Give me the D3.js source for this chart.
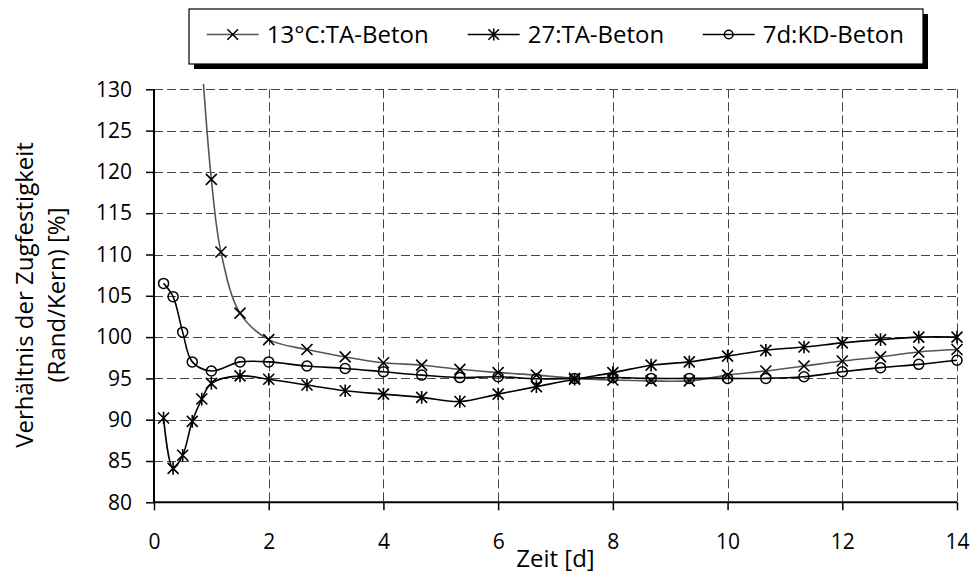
<!DOCTYPE html>
<html>
<head>
<meta charset="utf-8">
<script src="https://cdn.jsdelivr.net/npm/d3@7"></script>
<style>
  html, body { margin: 0; padding: 0; background: #fff; }
  svg { display: block; font-family: "Open Sans", "DejaVu Sans", sans-serif; }
</style>
</head>
<body>
<svg id="chart" width="976" height="573"></svg>
<script>
// Age of the concrete in days (4 h steps up to 36 h, then 16 h steps)
const days13 = [0.833, 1.0, 1.167, 1.5, 2.0, 2.667, 3.333, 4.0, 4.667, 5.333, 6.0, 6.667, 7.333, 8.0, 8.667, 9.333, 10.0, 10.667, 11.333, 12.0, 12.667, 13.333, 14.0];
const values13 = [133.5, 119.1, 110.3, 102.9, 99.7, 98.5, 97.6, 96.9, 96.6, 96.1, 95.7, 95.4, 95.0, 94.8, 94.7, 94.7, 95.4, 95.9, 96.5, 97.1, 97.6, 98.2, 98.5];

const days27 = [0.167, 0.333, 0.5, 0.667, 0.833, 1.0, 1.5, 2.0, 2.667, 3.333, 4.0, 4.667, 5.333, 6.0, 6.667, 7.333, 8.0, 8.667, 9.333, 10.0, 10.667, 11.333, 12.0, 12.667, 13.333, 14.0];
const values27 = [90.2, 84.1, 85.7, 89.8, 92.5, 94.4, 95.3, 94.9, 94.2, 93.5, 93.1, 92.7, 92.2, 93.1, 94.0, 94.9, 95.7, 96.6, 97.0, 97.7, 98.4, 98.8, 99.3, 99.7, 100.0, 100.0];

const days7d = [0.167, 0.333, 0.5, 0.667, 1.0, 1.5, 2.0, 2.667, 3.333, 4.0, 4.667, 5.333, 6.0, 6.667, 7.333, 8.0, 8.667, 9.333, 10.0, 10.667, 11.333, 12.0, 12.667, 13.333, 14.0];
const values7d = [106.5, 104.9, 100.6, 97.0, 95.9, 97.0, 97.0, 96.5, 96.2, 95.8, 95.4, 95.1, 95.2, 94.95, 95.0, 95.1, 95.0, 95.0, 95.0, 95.0, 95.2, 95.8, 96.3, 96.7, 97.2];

const seriesNames = ["13°C:TA-Beton", "27:TA-Beton", "7d:KD-Beton"];
const xTicks = [0, 2, 4, 6, 8, 10, 12, 14];
const yTicks = [80, 85, 90, 95, 100, 105, 110, 115, 120, 125, 130];
const xTitle = "Zeit [d]";
const yTitleLines = ["Verhältnis der Zugfestigkeit", "(Rand/Kern) [%]"];

const series = [
  { name: seriesNames[0], x: days13, y: values13, marker: "cross", color: "#555" },
  { name: seriesNames[1], x: days27, y: values27, marker: "star", color: "#000" },
  { name: seriesNames[2], x: days7d, y: values7d, marker: "circle", color: "#000" }
];

const svg = d3.select("#chart");
const plot = { left: 154, right: 957, top: 89.3, bottom: 502.3 };

const x = d3.scaleLinear().domain([0, 14]).range([plot.left, plot.right]);
const y = d3.scaleLinear().domain([80, 130]).range([plot.bottom, plot.top]);

// Dashed grid
const grid = svg.append("g").attr("stroke", "#444").attr("stroke-width", 1).attr("stroke-dasharray", "9,4");
grid.selectAll("line.h").data(yTicks.filter(v => v > 80)).join("line")
  .attr("x1", plot.left).attr("x2", plot.right)
  .attr("y1", d => Math.round(y(d)) + 0.5).attr("y2", d => Math.round(y(d)) + 0.5);
grid.selectAll("line.v").data(xTicks.filter(v => v > 0)).join("line")
  .attr("y1", plot.top).attr("y2", plot.bottom)
  .attr("x1", d => Math.round(x(d)) + 0.5).attr("x2", d => Math.round(x(d)) + 0.5);

// Axes
const yAxis = svg.append("g").attr("transform", `translate(${plot.left},0)`)
  .call(d3.axisLeft(y).tickValues(yTicks).tickSize(8).tickPadding(14).tickFormat(d3.format("d")));
const xAxis = svg.append("g").attr("transform", `translate(0,${plot.bottom})`)
  .call(d3.axisBottom(x).tickValues(xTicks).tickSize(8).tickPadding(24).tickFormat(d3.format("d")));
[xAxis, yAxis].forEach(g => {
  g.select(".domain").attr("stroke", "#000").attr("stroke-width", 2);
  g.selectAll(".tick line").attr("stroke", "#000").attr("stroke-width", 1.5);
  g.selectAll(".tick text").attr("fill", "#000").style("font-size", "21px").style("font-family", "'Open Sans', sans-serif");
});
xAxis.select(".domain").attr("d", `M${plot.left},0H${plot.right}`);
yAxis.select(".domain").attr("d", `M0,${plot.top}V${plot.bottom}`);

// Axis titles
svg.append("text").attr("x", (plot.left + plot.right) / 2).attr("y", 567)
  .attr("text-anchor", "middle").style("font-size", "24px").text(xTitle);
yTitleLines.forEach((t, i) => {
  svg.append("text").attr("transform", `translate(${33 + i * 32},295) rotate(-90)`)
    .attr("text-anchor", "middle").style("font-size", "24px").text(t);
});

// Clip region for the curves
svg.append("clipPath").attr("id", "plotclip").append("rect")
  .attr("x", plot.left).attr("y", 84).attr("width", plot.right - plot.left + 8).attr("height", plot.bottom - 84);

const line = d3.line().curve(d3.curveCatmullRom.alpha(0.5));

function drawMarker(g, kind, cx, cy, r) {
  if (kind === "circle") {
    g.append("circle").attr("cx", cx).attr("cy", cy).attr("r", r)
      .attr("fill", "none").attr("stroke", "#000").attr("stroke-width", 1.5);
  } else {
    const s = r;
    let d = `M${cx - s},${cy - s}L${cx + s},${cy + s}M${cx - s},${cy + s}L${cx + s},${cy - s}`;
    if (kind === "star") d += `M${cx},${cy - s * 1.15}V${cy + s * 1.15}`;
    g.append("path").attr("d", d).attr("stroke", "#000").attr("stroke-width", 1.6).attr("fill", "none");
  }
}

const body = svg.append("g").attr("clip-path", "url(#plotclip)");
series.forEach(s => {
  const pts = s.x.map((d, i) => [x(d), y(s.y[i])]);
  body.append("path").attr("d", line(pts)).attr("fill", "none")
    .attr("stroke", s.color).attr("stroke-width", 1.6);
  const mg = body.append("g");
  pts.forEach(p => drawMarker(mg, s.marker, p[0], p[1], s.marker === "circle" ? 5 : 5.5));
});

// Legend with drop shadow
const legend = svg.append("g");
const box = { x: 189, y: 9, w: 734, h: 55 };
legend.append("rect").attr("x", box.x + 5).attr("y", box.y + 5).attr("width", box.w).attr("height", box.h).attr("fill", "#000");
legend.append("rect").attr("x", box.x).attr("y", box.y).attr("width", box.w).attr("height", box.h)
  .attr("fill", "#fff").attr("stroke", "#000").attr("stroke-width", 1.2);
const legendX = [206.7, 467.7, 702.7];
series.forEach((s, i) => {
  const x0 = legendX[i], cy = 34.5;
  legend.append("line").attr("x1", x0).attr("x2", x0 + 52).attr("y1", cy).attr("y2", cy)
    .attr("stroke", s.color).attr("stroke-width", 1.6);
  drawMarker(legend, s.marker, x0 + 26, cy, s.marker === "circle" ? 4.3 : 5.3);
  legend.append("text").attr("x", x0 + 60).attr("y", cy).attr("dy", "0.36em")
    .style("font-size", "24px").text(s.name);
});
</script>
</body>
</html>
